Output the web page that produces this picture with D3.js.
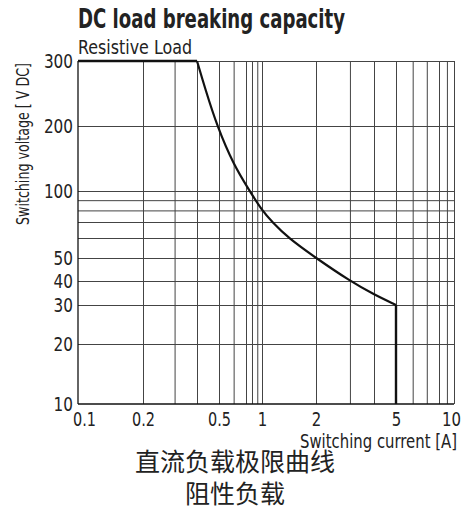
<!DOCTYPE html>
<html>
<head>
<meta charset="utf-8">
<script src="https://cdn.jsdelivr.net/npm/d3@7"></script>
<style>
body { margin: 0; background: #fff; }
svg text { font-family: "Liberation Sans Narrow", "DejaVu Sans Condensed", sans-serif; fill: #222; }
</style>
</head>
<body>
<div id="chart"></div>
<script>
// curve: switching current [A] vs voltage [V DC]
const current = [0.1, 0.4, 0.434, 0.49, 0.6, 0.76, 1, 1.14, 1.4, 2, 3, 4, 5, 5];
const voltage = [300, 300, 253, 200, 132, 100, 80, 70, 60, 50, 40, 34, 30, 10];

const xTicks = [0.1, 0.2, 0.5, 1, 2, 5, 10];
const yTicks = [10, 20, 30, 40, 50, 100, 200, 300];
const xGrid = [0.2, 0.3, 0.4, 0.5, 0.6, 0.7, 0.8, 0.9, 1, 2, 3, 4, 5, 6, 7, 8, 9, 10];
const yGrid = [20, 30, 40, 50, 60, 70, 80, 90, 100, 200, 300];

const width = 464, height = 510;

var svg = d3.select("#chart").append("svg")
  .attr("width", width)
  .attr("height", height);

// the printed grid is not a clean log grid, so the scales are pinned at several gridlines
var x = d3.scaleLog()
  .domain([0.1, 0.2, 0.4, 0.5, 0.7, 1, 2, 4, 5, 8, 10])
  .range([78, 143, 197, 219, 246, 262, 316, 374, 396, 439, 454]);
var y = d3.scaleLog()
  .domain([10, 20, 30, 40, 50, 60, 70, 100, 200, 300])
  .range([404, 344, 305, 281, 258, 238, 222, 191, 126, 61]);

const plotL = x(0.1), plotR = x(10), plotT = y(300), plotB = y(10);

// grid
svg.append("g")
  .attr("transform", "translate(0," + plotB + ")")
  .call(d3.axisBottom(x).tickValues(xGrid).tickSize(-(plotB - plotT)).tickFormat(""))
  .call(g => g.select(".domain").remove())
  .selectAll("line").attr("stroke", "#444").attr("stroke-width", 1);

svg.append("g")
  .attr("transform", "translate(" + plotL + ",0)")
  .call(d3.axisLeft(y).tickValues(yGrid).tickSize(-(plotR - plotL)).tickFormat(""))
  .call(g => g.select(".domain").remove())
  .selectAll("line").attr("stroke", "#444").attr("stroke-width", 1);

// left and bottom frame
svg.append("line").attr("x1", plotL).attr("x2", plotL).attr("y1", plotT).attr("y2", plotB)
  .attr("stroke", "#111").attr("stroke-width", 1.3);
svg.append("line").attr("x1", plotL).attr("x2", plotR).attr("y1", plotB).attr("y2", plotB)
  .attr("stroke", "#111").attr("stroke-width", 1.3);

// tick labels (narrow digits like the printed sheet)
var xAxis = svg.append("g")
  .attr("transform", "translate(0," + plotB + ")")
  .call(d3.axisBottom(x).tickValues(xTicks).tickSize(0).tickPadding(8).tickFormat(d3.format("~g")));
xAxis.select(".domain").remove();
xAxis.selectAll("text").attr("font-size", 20).attr("fill", "#222")
  .attr("dx", d => d == 0.1 ? 6 : (d == 10 ? -3 : 0))
  .attr("textLength", d => String(d).replace(".", "").length * 9.5 + (String(d).includes(".") ? 4 : 0))
  .attr("lengthAdjust", "spacingAndGlyphs");

var yAxis = svg.append("g")
  .attr("transform", "translate(" + plotL + ",0)")
  .call(d3.axisLeft(y).tickValues(yTicks).tickSize(0).tickPadding(5).tickFormat(d3.format("~g")));
yAxis.select(".domain").remove();
yAxis.selectAll("text").attr("font-size", 20).attr("fill", "#222")
  .attr("textLength", d => String(d).length * 9.7)
  .attr("lengthAdjust", "spacingAndGlyphs");

// curve: flat top, bend, vertical drop
var line = d3.line().x(i => x(current[i])).y(i => y(voltage[i]));
var idx = d3.range(current.length);
const n = current.length;

svg.append("path")
  .attr("d", line(idx.slice(0, 2)))
  .attr("fill", "none").attr("stroke", "#111").attr("stroke-width", 2.4);
svg.append("path")
  .attr("d", d3.line().x(i => x(current[i])).y(i => y(voltage[i])).curve(d3.curveBasis)(idx.slice(1, n - 1)))
  .attr("fill", "none").attr("stroke", "#111").attr("stroke-width", 2.2);
svg.append("path")
  .attr("d", line(idx.slice(n - 2)))
  .attr("fill", "none").attr("stroke", "#111").attr("stroke-width", 2.4);

// titles
svg.append("text").attr("x", 78).attr("y", 28)
  .attr("font-size", 27).attr("font-weight", "bold").attr("fill", "#1a1a1a")
  .attr("textLength", 267).attr("lengthAdjust", "spacingAndGlyphs")
  .text("DC load breaking capacity");
svg.append("text").attr("x", 78).attr("y", 54)
  .attr("font-size", 19)
  .attr("textLength", 114).attr("lengthAdjust", "spacingAndGlyphs")
  .text("Resistive Load");

svg.append("text")
  .attr("transform", "translate(29,144) rotate(-90)")
  .attr("text-anchor", "middle").attr("font-size", 17)
  .attr("textLength", 162).attr("lengthAdjust", "spacingAndGlyphs")
  .text("Switching voltage [ V DC]");

svg.append("text").attr("x", 457).attr("y", 448)
  .attr("text-anchor", "end").attr("font-size", 19)
  .attr("textLength", 157).attr("lengthAdjust", "spacingAndGlyphs")
  .text("Switching current [A]");

svg.append("text").attr("x", 235).attr("y", 471)
  .attr("text-anchor", "middle").attr("font-size", 25)
  .style("font-family", "'Noto Sans CJK SC', sans-serif").attr("fill", "#111")
  .text("直流负载极限曲线");
svg.append("text").attr("x", 235).attr("y", 503)
  .attr("text-anchor", "middle").attr("font-size", 25)
  .style("font-family", "'Noto Sans CJK SC', sans-serif").attr("fill", "#111")
  .text("阻性负载");
</script>
</body>
</html>
